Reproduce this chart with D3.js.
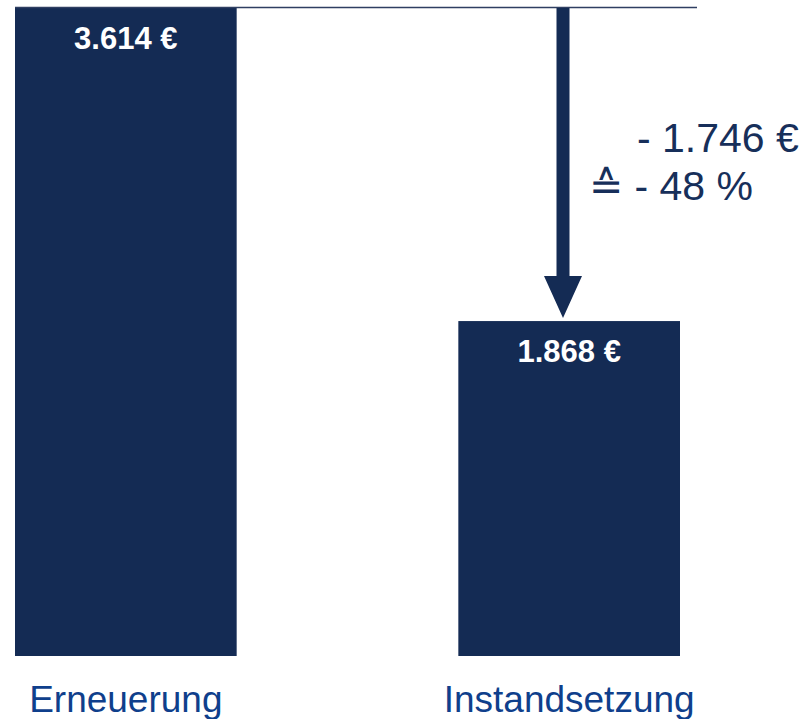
<!DOCTYPE html>
<html>
<head>
<meta charset="utf-8">
<script src="https://cdn.jsdelivr.net/npm/d3@7"></script>
<style>
  html, body { margin: 0; padding: 0; background: #fff; }
  svg { display: block; font-family: "Liberation Sans", Arial, sans-serif; }
</style>
</head>
<body>
<div id="chart"></div>
<script>
// Kosten je Variante (Euro)
const categories = ['Erneuerung', 'Instandsetzung'];
const values = [3614, 1868];
const deltaText = ['- 1.746 €', '≙ - 48 %'];

const width = 810;
const height = 719;

const barColor = '#142b54';
const labelColor = '#0f3f8c';
const noteColor = '#172f5a';

const de = d3.formatLocale({ decimal: ',', thousands: '.', grouping: [3], currency: ['', ' €'] });
const fmt = de.format(',.0f');

const x = d3.scaleBand()
    .domain(categories)
    .range([15, 680])
    .paddingInner(0.5)
    .paddingOuter(0);

const y = d3.scaleLinear()
    .domain([0, d3.max(values)])
    .range([656, 8]);

const svg = d3.select('#chart').append('svg')
    .attr('width', width)
    .attr('height', height);

const data = categories.map((c, i) => ({ cat: c, value: values[i] }));

// bars
svg.selectAll('rect.bar')
    .data(data)
    .join('rect')
    .attr('class', 'bar')
    .attr('x', d => x(d.cat))
    .attr('y', d => y(d.value))
    .attr('width', x.bandwidth())
    .attr('height', d => y(0) - y(d.value))
    .attr('fill', barColor);

// reference line at top of first bar
svg.append('line')
    .attr('x1', x(categories[0]))
    .attr('x2', 697)
    .attr('y1', y(values[0]) - 0.5)
    .attr('y2', y(values[0]) - 0.5)
    .attr('stroke', '#2f3f62')
    .attr('stroke-width', 1.5);

// value labels inside bars
svg.selectAll('text.val')
    .data(data)
    .join('text')
    .attr('class', 'val')
    .attr('x', d => x(d.cat) + x.bandwidth() / 2)
    .attr('y', d => y(d.value) + 41)
    .attr('text-anchor', 'middle')
    .attr('fill', '#fff')
    .attr('font-weight', 'bold')
    .attr('font-size', '31px')
    .text(d => fmt(d.value) + ' €');

// category labels
svg.selectAll('text.cat')
    .data(data)
    .join('text')
    .attr('class', 'cat')
    .attr('x', d => x(d.cat) + x.bandwidth() / 2)
    .attr('y', 712)
    .attr('text-anchor', 'middle')
    .attr('fill', labelColor)
    .attr('font-size', '37px')
    .text(d => d.cat);

// arrow from first level down to second bar
const ax = 563;
const yTop = y(values[0]);
const yTip = y(values[1]) - 3;
const headH = 42, headW = 19, shaftW = 6.5;
svg.append('path')
    .attr('d', [
        'M', ax - shaftW, yTop,
        'L', ax + shaftW, yTop,
        'L', ax + shaftW, yTip - headH,
        'L', ax + headW, yTip - headH,
        'L', ax, yTip,
        'L', ax - headW, yTip - headH,
        'L', ax - shaftW, yTip - headH,
        'Z'
    ].join(' '))
    .attr('fill', barColor);

// difference annotation
const notePos = [[637, 152], [589, 200]];
svg.selectAll('text.note')
    .data(deltaText)
    .join('text')
    .attr('class', 'note')
    .attr('x', (d, i) => notePos[i][0])
    .attr('y', (d, i) => notePos[i][1])
    .attr('fill', noteColor)
    .attr('font-size', '41px')
    .text(d => d);
</script>
</body>
</html>
